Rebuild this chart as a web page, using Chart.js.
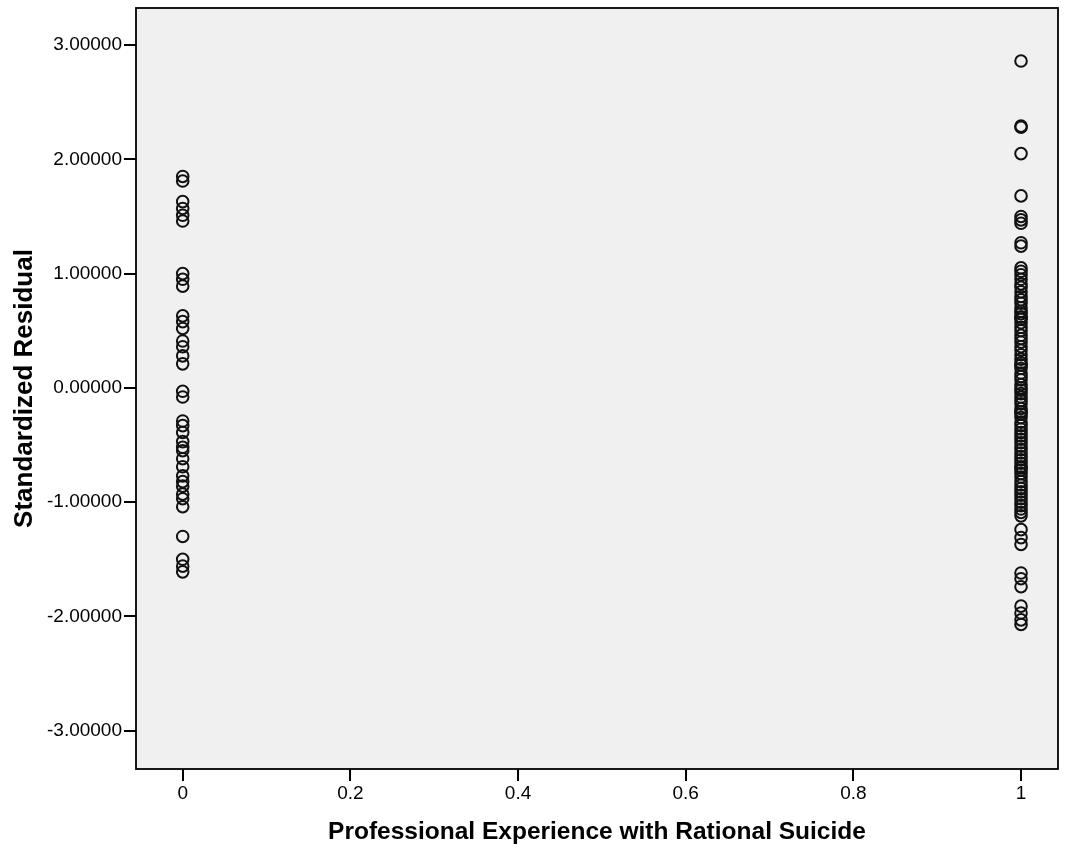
<!DOCTYPE html>
<html>
<head>
<meta charset="utf-8">
<script src="https://cdn.jsdelivr.net/npm/chart.js@4/dist/chart.umd.min.js"></script>
<style>
  html, body { margin: 0; padding: 0; background: #fff; }
  #wrap { width: 1068px; height: 859px; }
</style>
</head>
<body>
<div id="wrap"><canvas id="chart" width="1068" height="859"></canvas></div>
<script>
// standardized residuals, grouped by x value (0 = no, 1 = yes)
const groupNoExp = 0;
const groupExp = 1;
const residualsNoExp = [1.85, 1.81, 1.63, 1.57, 1.51, 1.46, 1.00, 0.95, 0.89, 0.63, 0.58, 0.52,
    0.41, 0.36, 0.28, 0.21, -0.03, -0.08, -0.29, -0.33, -0.39, -0.47, -0.52, -0.55, -0.62,
    -0.69, -0.77, -0.82, -0.86, -0.93, -0.97, -1.04, -1.30, -1.50, -1.56, -1.61];
const residualsExp = [2.86, 2.29, 2.28, 2.05, 1.68, 1.50, 1.47, 1.44, 1.27, 1.24,
    1.05, 1.02, 0.99, 0.95, 0.91, 0.88, 0.84, 0.80, 0.77, 0.74, 0.70, 0.67, 0.65, 0.62, 0.62,
    0.60, 0.57, 0.53, 0.50, 0.46, 0.43, 0.40, 0.36, 0.33, 0.29, 0.25, 0.22, 0.20, 0.20, 0.17,
    0.13, 0.10, 0.07, 0.03, 0.00, -0.02, -0.05, -0.08, -0.11, -0.14, -0.18, -0.21, -0.21,
    -0.23, -0.26, -0.30, -0.33, -0.36, -0.39, -0.42, -0.45, -0.48, -0.51, -0.54, -0.57,
    -0.60, -0.63, -0.66, -0.69, -0.70, -0.72, -0.75, -0.78, -0.82, -0.85, -0.88, -0.91,
    -0.94, -0.97, -1.00, -1.03, -1.06, -1.09, -1.12, -1.24, -1.31, -1.37, -1.62, -1.67,
    -1.74, -1.91, -1.97, -2.03, -2.07];

const xTickValues = [0, 0.2, 0.4, 0.6, 0.8, 1];
const xTickLabels = ["0", "0.2", "0.4", "0.6", "0.8", "1"];
const yTickValues = [-3, -2, -1, 0, 1, 2, 3];
const yTickLabels = ["-3.00000", "-2.00000", "-1.00000", "0.00000", "1.00000", "2.00000", "3.00000"];

const points = residualsNoExp.map(v => ({x: groupNoExp, y: v}))
    .concat(residualsExp.map(v => ({x: groupExp, y: v})));

// grey plot background and a frame round it
const plotFrame = {
    id: 'plotFrame',
    beforeDatasetsDraw(chart) {
        const {ctx, chartArea: {left, right, top, bottom}} = chart;
        ctx.save();
        ctx.fillStyle = '#f0f0f0';
        ctx.fillRect(left, top, right - left, bottom - top);
        ctx.restore();
    },
    afterDraw(chart) {
        const {ctx, chartArea: {left, right, top, bottom}} = chart;
        ctx.save();
        ctx.strokeStyle = '#000';
        ctx.lineWidth = 1.8;
        ctx.strokeRect(left, top, right - left, bottom - top);
        ctx.restore();
    }
};

const tickFont = {family: 'Liberation Sans, Arial, sans-serif', size: 19};

new Chart(document.getElementById('chart'), {
    type: 'scatter',
    data: {
        datasets: [{
            data: points,
            pointStyle: 'circle',
            pointRadius: 5.8,
            pointHoverRadius: 5.8,
            pointBorderWidth: 2,
            pointBorderColor: '#111',
            pointBackgroundColor: 'rgba(0,0,0,0)'
        }]
    },
    options: {
        responsive: false,
        animation: false,
        devicePixelRatio: 1,
        layout: {padding: {top: 8, right: 10, left: 0, bottom: 0}},
        plugins: {legend: {display: false}, tooltip: {enabled: false}},
        scales: {
            x: {
                type: 'linear',
                min: -0.0557,
                max: 1.0441,
                afterBuildTicks: s => { s.ticks = xTickValues.map(v => ({value: v})); },
                afterFit: s => { s.height = 90; s.paddingLeft = 0; s.paddingRight = 0; },
                ticks: {
                    color: '#000',
                    font: tickFont,
                    padding: 1,
                    maxRotation: 0,
                    autoSkip: false,
                    callback: (v, i) => xTickLabels[i]
                },
                grid: {drawOnChartArea: false, drawTicks: true, tickLength: 12, color: '#000', lineWidth: 2},
                border: {display: false},
                title: {display: true, text: 'Professional Experience with Rational Suicide',
                    color: '#000', font: {family: 'Liberation Sans, Arial, sans-serif', size: 24.5, weight: 'bold'},
                    padding: {top: 0, bottom: 12}}
            },
            y: {
                type: 'linear',
                min: -3.335,
                max: 3.324,
                afterBuildTicks: s => { s.ticks = yTickValues.map(v => ({value: v})); },
                afterFit: s => { s.width = 136; s.paddingTop = 0; s.paddingBottom = 0; },
                ticks: {
                    color: '#000',
                    font: tickFont,
                    padding: 2,
                    autoSkip: false,
                    callback: (v, i) => yTickLabels[i]
                },
                grid: {drawOnChartArea: false, drawTicks: true, tickLength: 12, color: '#000', lineWidth: 2},
                border: {display: false},
                title: {display: true, text: 'Standardized Residual',
                    color: '#000', font: {family: 'Liberation Sans, Arial, sans-serif', size: 26, weight: 'bold'},
                    padding: {top: 9, bottom: 0}}
            }
        }
    },
    plugins: [plotFrame]
});
</script>
</body>
</html>
